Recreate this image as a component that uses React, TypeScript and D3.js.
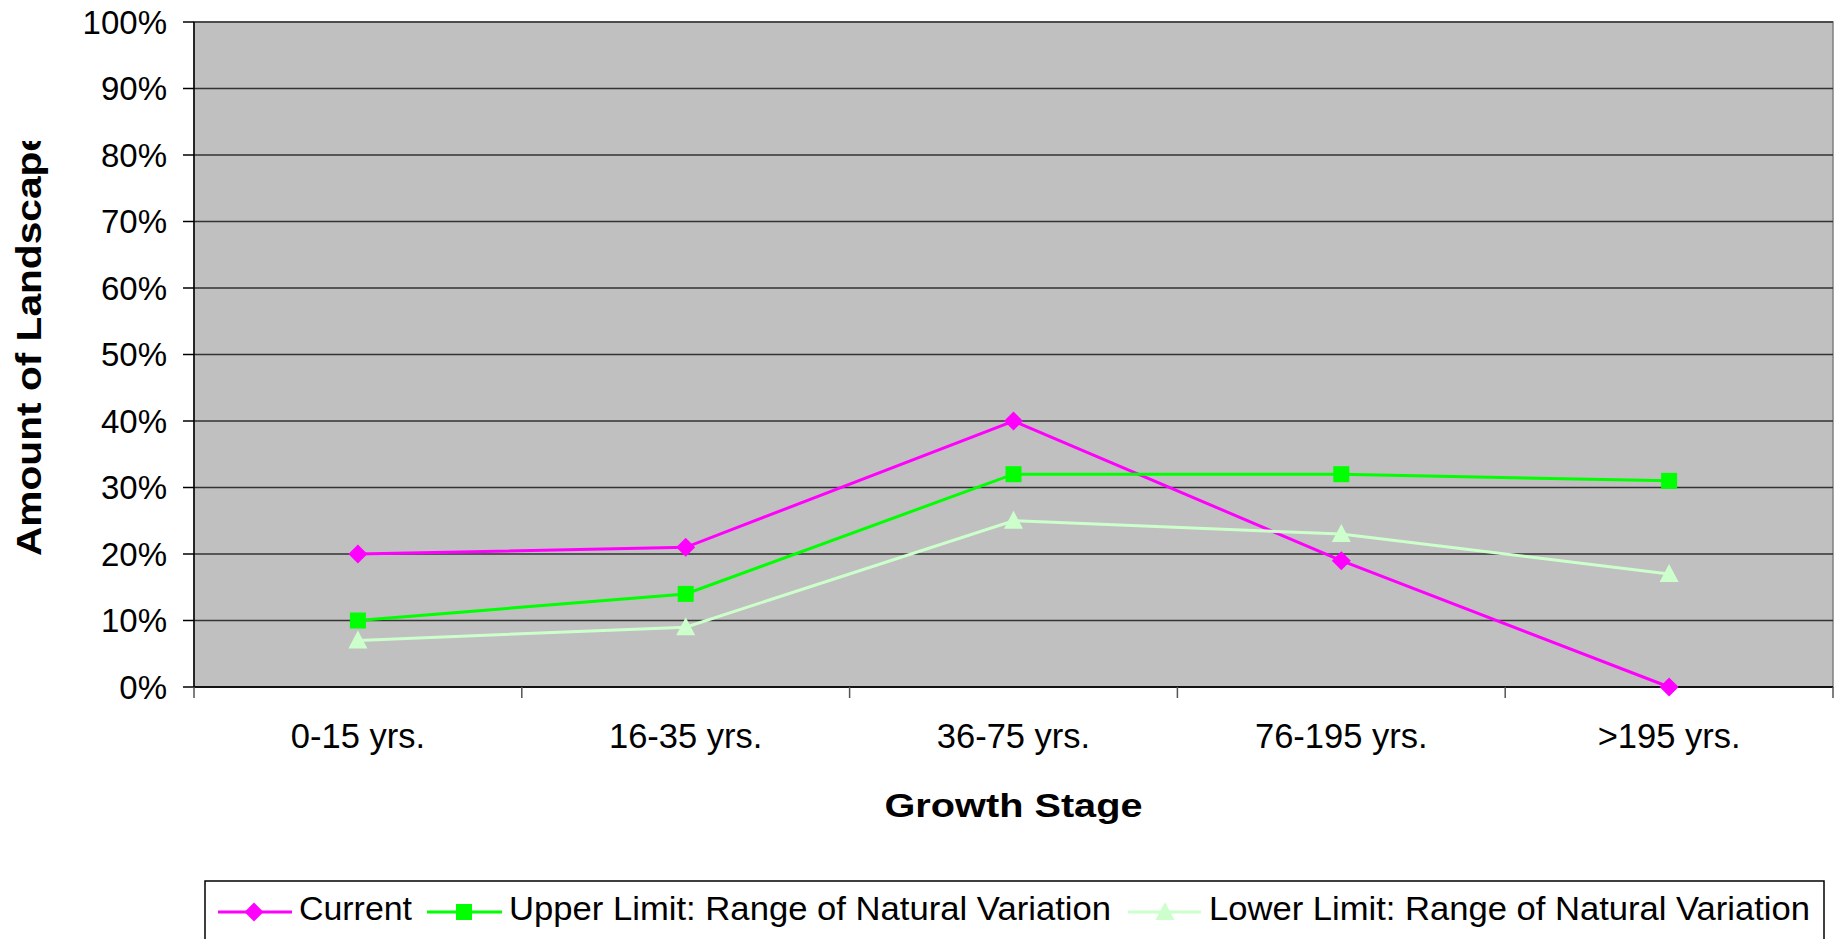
import React from "react";
import * as d3 from "d3";

const categories = ["0-15 yrs.", "16-35 yrs.", "36-75 yrs.", "76-195 yrs.", ">195 yrs."];
const currentValues = [20, 21, 40, 19, 0];
const upperValues = [10, 14, 32, 32, 31];
const lowerValues = [7, 9, 25, 23, 17];
const yTicks = [0, 10, 20, 30, 40, 50, 60, 70, 80, 90, 100];
const seriesNames = ["Current", "Upper Limit: Range of Natural Variation", "Lower Limit: Range of Natural Variation"];

const W = 1843;
const H = 939;
const left = 194;
const right = 1833;
const top = 22;
const bottom = 687;
const FONT = "'Liberation Sans', Arial, sans-serif";

const colors = ["#FF00FF", "#00FF00", "#CCFFCC"];
const shapes = ["diamond", "square", "triangle"];

function Marker({ type, x, y, color }: { type: string; x: number; y: number; color: string }) {
  if (type === "diamond") {
    const r = 9.5;
    return <path d={`M${x},${y - r}L${x + r},${y}L${x},${y + r}L${x - r},${y}Z`} fill={color} />;
  }
  if (type === "square") {
    const s = 8;
    return <rect x={x - s} y={y - s} width={2 * s} height={2 * s} fill={color} />;
  }
  const h = 9;
  return <path d={`M${x},${y - h - 1}L${x + 9.5},${y + h - 1}L${x - 9.5},${y + h - 1}Z`} fill={color} />;
}

export default function App() {
  const x = d3.scaleBand<string>().domain(categories).range([left, right]).padding(0);
  const y = d3.scaleLinear().domain([0, 100]).range([bottom, top]);
  const cx = (c: string) => (x(c) as number) + x.bandwidth() / 2;

  const series = [currentValues, upperValues, lowerValues];
  const line = d3
    .line<number>()
    .x((_, i) => cx(categories[i]))
    .y((d) => y(d));

  const boundaries = d3.range(categories.length + 1).map((i) => left + i * x.bandwidth());

  const legendItems = [
    { lineX1: 218, lineX2: 292, markerX: 254, textX: 299, len: 113 },
    { lineX1: 427, lineX2: 502, markerX: 464, textX: 509, len: 602 },
    { lineX1: 1128, lineX2: 1201, markerX: 1165, textX: 1209, len: 601 },
  ];

  return (
    <svg
      width={W}
      height={H}
      style={{ position: "absolute", left: 0, top: 0, background: "#fff" }}
      fontFamily={FONT}
    >
      <defs>
        <clipPath id="ytitleclip">
          <rect x={0} y={141} width={100} height={500} />
        </clipPath>
      </defs>
      <rect x={0} y={0} width={W} height={H} fill="#fff" />
      <rect x={left} y={top} width={right - left} height={bottom - top} fill="#C0C0C0" stroke="#808080" strokeWidth={1.5} />
      {yTicks.map((t) => (
        <line key={t} x1={left} x2={right} y1={y(t)} y2={y(t)} stroke="#333" strokeWidth={1.4} />
      ))}
      <line x1={left} x2={left} y1={top} y2={bottom} stroke="#000" strokeWidth={1.5} />
      <line x1={left} x2={right} y1={bottom} y2={bottom} stroke="#000" strokeWidth={1.5} />
      {yTicks.map((t) => (
        <line key={"yt" + t} x1={left - 11} x2={left} y1={y(t)} y2={y(t)} stroke="#000" strokeWidth={1.5} />
      ))}
      {boundaries.map((b, i) => (
        <line key={"xt" + i} x1={b} x2={b} y1={bottom} y2={bottom + 11} stroke="#555" strokeWidth={1.5} />
      ))}
      {yTicks.map((t) => (
        <text key={"yl" + t} x={167} y={y(t)} dy="0.36em" textAnchor="end" fontSize={33} fill="#000">
          {t + "%"}
        </text>
      ))}
      {categories.map((c) => (
        <text key={c} x={cx(c)} y={748} textAnchor="middle" fontSize={34.5} fill="#000">
          {c}
        </text>
      ))}
      <text x={(left + right) / 2} y={817} textAnchor="middle" fontSize={33} fontWeight="bold" textLength={258} lengthAdjust="spacingAndGlyphs">
        Growth Stage
      </text>
      <g clipPath="url(#ytitleclip)">
        <text
          transform="translate(41,556) rotate(-90)"
          x={0}
          y={0}
          fontSize={35}
          fontWeight="bold"
          textLength={427}
          lengthAdjust="spacingAndGlyphs"
        >
          Amount of Landscape
        </text>
      </g>
      {series.map((vals, si) => (
        <g key={"s" + si}>
          <path d={line(vals) as string} fill="none" stroke={colors[si]} strokeWidth={3} />
          {vals.map((v, i) => (
            <Marker key={i} type={shapes[si]} x={cx(categories[i])} y={y(v)} color={colors[si]} />
          ))}
        </g>
      ))}
      <rect x={205} y={881} width={1824 - 205} height={80} fill="#fff" stroke="#000" strokeWidth={1.5} />
      {legendItems.map((it, i) => (
        <g key={"lg" + i}>
          <line x1={it.lineX1} x2={it.lineX2} y1={912} y2={912} stroke={colors[i]} strokeWidth={3} />
          <Marker type={shapes[i]} x={it.markerX} y={912} color={colors[i]} />
          <text x={it.textX} y={920} fontSize={34} fill="#000" textLength={it.len} lengthAdjust="spacingAndGlyphs">
            {seriesNames[i]}
          </text>
        </g>
      ))}
    </svg>
  );
}
